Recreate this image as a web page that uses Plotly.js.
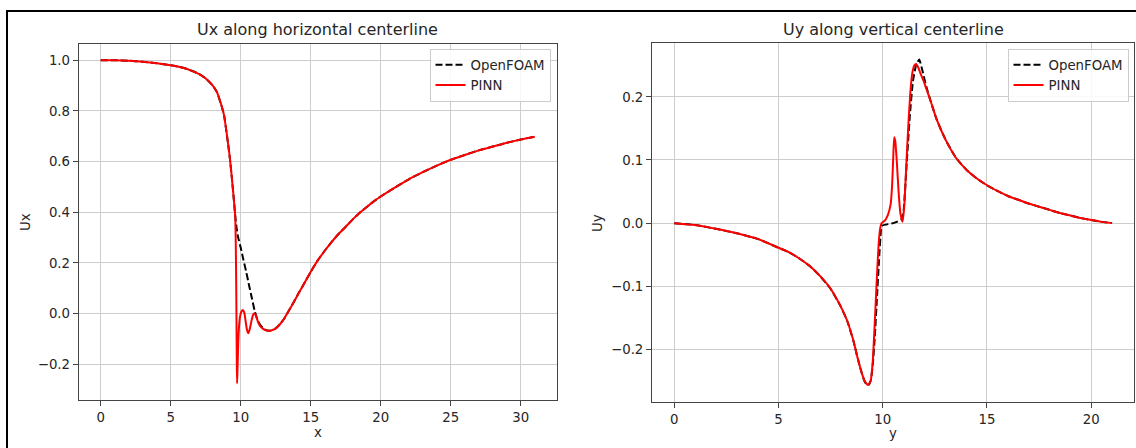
<!DOCTYPE html>
<html>
<head>
<meta charset="utf-8">
<script src="https://cdn.plot.ly/plotly-3.0.1.min.js"></script>
<style>html,body{margin:0;padding:0;background:#fff;}#chart{width:1136px;height:448px;}</style>
</head>
<body>
<div id="chart"></div>
<script>
// ---- Data: Ux along horizontal centerline ----
const uxX = [0,1,2,3,4,5,5.5,6,6.5,7,7.5,8,8.3,8.6,8.8,9.0,9.2,9.35,9.5,9.6,9.7,9.8,10.0,10.2,10.4,10.6,10.8,11.0,11.2,11.4,11.6,11.8,12.0,12.2,12.5,12.8,13.1,13.4,13.8,14.2,14.6,15.0,15.5,16.0,16.5,17.0,17.5,18.0,18.5,19.0,19.5,20.0,21.0,22.0,23.0,24.0,25.0,26.0,27.0,28.0,29.0,30.0,31.0];
const uxOpenFOAM = [1.000,1.000,0.998,0.994,0.988,0.980,0.975,0.968,0.958,0.946,0.928,0.900,0.874,0.825,0.785,0.710,0.625,0.545,0.455,0.390,0.340,0.305,0.260,0.210,0.163,0.110,0.060,0.010,-0.025,-0.045,-0.058,-0.065,-0.067,-0.066,-0.058,-0.042,-0.020,0.008,0.047,0.087,0.126,0.165,0.210,0.248,0.283,0.315,0.343,0.372,0.398,0.421,0.443,0.462,0.497,0.530,0.558,0.584,0.607,0.626,0.644,0.659,0.674,0.687,0.698];
const uxPinnX = [0,1,2,3,4,5,5.5,6,6.5,7,7.5,8,8.3,8.6,8.8,9.0,9.2,9.35,9.5,9.6,9.64,9.68,9.72,9.74,9.77,9.82,9.88,9.95,10.05,10.15,10.25,10.35,10.45,10.55,10.65,10.78,10.9,11.0,11.1,11.25,11.4,11.6,11.8,12.0,12.2,12.5,12.8,13.1,13.4,13.8,14.2,14.6,15.0,15.5,16.0,16.5,17.0,17.5,18.0,18.5,19.0,19.5,20.0,21.0,22.0,23.0,24.0,25.0,26.0,27.0,28.0,29.0,30.0,31.0];
const uxPINN = [1.000,1.000,0.998,0.994,0.988,0.980,0.975,0.968,0.958,0.946,0.928,0.900,0.874,0.825,0.785,0.710,0.625,0.545,0.455,0.390,0.300,0.100,-0.200,-0.275,-0.220,-0.120,-0.050,-0.012,0.008,0.014,0.005,-0.030,-0.065,-0.077,-0.060,-0.025,-0.003,0.000,-0.010,-0.035,-0.050,-0.060,-0.066,-0.068,-0.066,-0.058,-0.042,-0.020,0.008,0.047,0.087,0.126,0.165,0.210,0.248,0.283,0.315,0.343,0.372,0.398,0.421,0.443,0.462,0.497,0.530,0.558,0.584,0.607,0.626,0.644,0.659,0.674,0.687,0.698];

// ---- Data: Uy along vertical centerline ----
const uyY = [0,1,2,3,4,5,5.5,6,6.5,7,7.5,8,8.3,8.6,8.8,9.0,9.15,9.3,9.42,9.52,9.62,9.72,9.82,9.92,9.97,10.5,10.9,11.0,11.15,11.3,11.45,11.6,11.75,11.9,12.1,12.3,12.6,13.0,13.5,14.0,14.5,15.0,15.5,16.0,16.5,17.0,17.5,18.0,18.5,19.0,19.5,20.0,20.5,21.0];
const uyOpenFOAM = [0.000,-0.003,-0.009,-0.016,-0.025,-0.039,-0.046,-0.056,-0.068,-0.084,-0.104,-0.133,-0.155,-0.187,-0.214,-0.238,-0.252,-0.257,-0.250,-0.225,-0.180,-0.120,-0.060,-0.010,-0.004,0.000,0.006,0.020,0.095,0.170,0.225,0.250,0.259,0.242,0.215,0.193,0.163,0.133,0.104,0.085,0.071,0.060,0.051,0.043,0.037,0.031,0.026,0.021,0.016,0.012,0.008,0.005,0.002,0.000];
const uyPinnY = [0,1,2,3,4,5,5.5,6,6.5,7,7.5,8,8.3,8.6,8.8,9.0,9.15,9.3,9.42,9.52,9.6,9.7,9.8,9.88,9.95,10.1,10.25,10.38,10.45,10.5,10.55,10.6,10.68,10.76,10.85,10.95,11.03,11.12,11.22,11.32,11.42,11.52,11.6,11.7,11.8,11.95,12.1,12.3,12.6,13.0,13.5,14.0,14.5,15.0,15.5,16.0,16.5,17.0,17.5,18.0,18.5,19.0,19.5,20.0,20.5,21.0];
const uyPINN = [0.000,-0.003,-0.009,-0.016,-0.025,-0.039,-0.046,-0.056,-0.068,-0.084,-0.104,-0.133,-0.155,-0.187,-0.214,-0.238,-0.251,-0.256,-0.250,-0.220,-0.170,-0.100,-0.035,-0.008,0.000,0.004,0.013,0.030,0.060,0.100,0.136,0.130,0.095,0.050,0.015,0.002,0.025,0.085,0.150,0.205,0.238,0.250,0.252,0.247,0.238,0.226,0.212,0.193,0.163,0.133,0.104,0.085,0.071,0.060,0.051,0.043,0.037,0.031,0.026,0.021,0.016,0.012,0.008,0.005,0.002,0.000];

// ---- Tick labels ----
const uxXTicks = [0,5,10,15,20,25,30];
const uxYTicks = [-0.2,0.0,0.2,0.4,0.6,0.8,1.0];
const uyXTicks = [0,5,10,15,20];
const uyYTicks = [-0.2,-0.1,0.0,0.1,0.2];

function autoRange(arrs){
  let mn = Infinity, mx = -Infinity;
  arrs.forEach(a => a.forEach(v => { if (v < mn) mn = v; if (v > mx) mx = v; }));
  const pad = 0.05 * (mx - mn);
  return [mn - pad, mx + pad];
}
function fmtTicks(vals, dec){ return vals.map(v => (v < 0 ? '\u2212' : '') + Math.abs(v).toFixed(dec)); }

const W = 1136, H = 448;
const px = v => v / W, py = v => (H - v) / H;

const dashBlack = {color:'#000', width:2, dash:'7px,3px', shape:'spline', smoothing:0.5};
const solidRed = {color:'#ff0000', width:2, shape:'spline', smoothing:0.5};

const traces = [
  {x: uxX, y: uxOpenFOAM, type:'scatter', mode:'lines', name:'OpenFOAM', line: dashBlack, xaxis:'x', yaxis:'y', legend:'legend'},
  {x: uxPinnX, y: uxPINN, type:'scatter', mode:'lines', name:'PINN', line: solidRed, xaxis:'x', yaxis:'y', legend:'legend'},
  {x: uyY, y: uyOpenFOAM, type:'scatter', mode:'lines', name:'OpenFOAM', line: dashBlack, xaxis:'x2', yaxis:'y2', legend:'legend2'},
  {x: uyPinnY, y: uyPINN, type:'scatter', mode:'lines', name:'PINN', line: solidRed, xaxis:'x2', yaxis:'y2', legend:'legend2'}
];

const axisCommon = {
  showgrid:true, gridcolor:'#cdcdcd', gridwidth:1, zeroline:false,
  showline:true, mirror:true, linecolor:'#444', linewidth:1.3,
  ticks:'outside', ticklen:5, tickwidth:1, tickcolor:'#444',
  tickfont:{family:'DejaVu Sans', size:13.3, color:'#262626'},
  fixedrange:true
};

const legendCommon = {
  bgcolor:'rgba(255,255,255,0.85)', bordercolor:'#cccccc', borderwidth:1,
  font:{family:'DejaVu Sans', size:13.3, color:'#262626'},
  xanchor:'right', yanchor:'top', tracegroupgap:0, itemwidth:30
};

const layout = {
  width: W, height: H,
  margin:{l:0, r:0, t:0, b:0},
  paper_bgcolor:'#ffffff', plot_bgcolor:'#ffffff',
  font:{family:'DejaVu Sans', color:'#262626'},
  showlegend:true,
  xaxis: Object.assign({}, axisCommon, {domain:[px(79), px(556.5)], anchor:'y', range:autoRange([uxX, uxPinnX]), tickvals:uxXTicks, ticktext:fmtTicks(uxXTicks,0)}),
  yaxis: Object.assign({}, axisCommon, {domain:[py(399.5), py(44)], anchor:'x', range:autoRange([uxOpenFOAM, uxPINN]), tickvals:uxYTicks, ticktext:fmtTicks(uxYTicks,1)}),
  xaxis2: Object.assign({}, axisCommon, {domain:[px(652.3), px(1134)], anchor:'y2', range:autoRange([uyY, uyPinnY]), tickvals:uyXTicks, ticktext:fmtTicks(uyXTicks,0)}),
  yaxis2: Object.assign({}, axisCommon, {domain:[py(401.7), py(43.3)], anchor:'x2', range:autoRange([uyOpenFOAM, uyPINN]), tickvals:uyYTicks, ticktext:fmtTicks(uyYTicks,1)}),
  legend: Object.assign({}, legendCommon, {x: px(550.5), y: py(48.5)}),
  legend2: Object.assign({}, legendCommon, {x: px(1128.5), y: py(48.5)}),
  annotations: [
    {text:'Ux along horizontal centerline', xref:'paper', yref:'paper', x:px((79+556.5)/2), y:py(30), xanchor:'center', yanchor:'middle', showarrow:false, font:{family:'DejaVu Sans', size:16, color:'#262626'}},
    {text:'Uy along vertical centerline', xref:'paper', yref:'paper', x:px((652.3+1134)/2), y:py(30), xanchor:'center', yanchor:'middle', showarrow:false, font:{family:'DejaVu Sans', size:16, color:'#262626'}},
    {text:'x', xref:'paper', yref:'paper', x:px(317.7), y:py(432), xanchor:'center', yanchor:'middle', showarrow:false, font:{family:'DejaVu Sans', size:13.3, color:'#262626'}},
    {text:'y', xref:'paper', yref:'paper', x:px(893), y:py(433), xanchor:'center', yanchor:'middle', showarrow:false, font:{family:'DejaVu Sans', size:13.3, color:'#262626'}},
    {text:'Ux', xref:'paper', yref:'paper', x:px(25), y:py(222), xanchor:'center', yanchor:'middle', textangle:-90, showarrow:false, font:{family:'DejaVu Sans', size:13.3, color:'#262626'}},
    {text:'Uy', xref:'paper', yref:'paper', x:px(598), y:py(223), xanchor:'center', yanchor:'middle', textangle:-90, showarrow:false, font:{family:'DejaVu Sans', size:13.3, color:'#262626'}}
  ],
  shapes: [
    {type:'line', xref:'paper', yref:'paper', x0:px(7), x1:px(7), y0:0, y1:py(10), line:{color:'#000', width:2}},
    {type:'line', xref:'paper', yref:'paper', x0:px(6), x1:1, y0:py(11), y1:py(11), line:{color:'#000', width:2}}
  ]
};

Plotly.newPlot('chart', traces, layout, {displayModeBar:false, staticPlot:true});
</script>
</body>
</html>
